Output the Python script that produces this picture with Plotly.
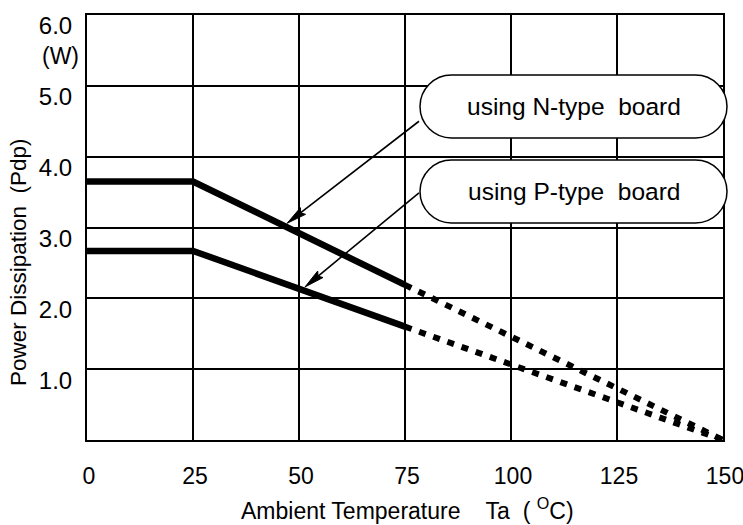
import math
import plotly.graph_objects as go

# ---- data ----
temp_solid = [0, 25, 75]
n_type_solid = [3.65, 3.65, 2.19]
p_type_solid = [2.67, 2.67, 1.60]
temp_dotted = [75, 150]
n_type_dotted = [2.19, 0.0]
p_type_dotted = [1.60, 0.0]

x_ticks = [0, 25, 50, 75, 100, 125, 150]
x_tick_labels = ["0", "25", "50", "75", "100", "125", "150"]
y_ticks = [1, 2, 3, 4, 5, 6]
y_tick_labels = ["1.0", "2.0", "3.0", "4.0", "5.0", "6.0"]

labels = ["using N-type  board", "using P-type  board"]
arrow_tips = [(47.2, 3.06), (51.4, 2.16)]
arrow_tails = [(78.3, 4.50), (78.3, 3.49)]

X_RANGE = [0, 150]
Y_RANGE = [0, 6]

# ---- layout geometry (pixels) ----
W, H = 743, 525
ML, MR, MT, MB = 87, 20, 15, 85
PW, PH = W - ML - MR, H - MT - MB
FONT = "Liberation Sans, Arial, sans-serif"


def px2paper(px, py):
    return (px - ML) / PW, (H - MB - py) / PH


def stadium(L, T, R, B):
    r = (B - T) / 2.0
    k = 0.5523 * r
    cy = (T + B) / 2.0

    def P(x, y):
        xp, yp = px2paper(x, y)
        return f"{xp:.5f},{yp:.5f}"

    d = f"M{P(L + r, T)} L{P(R - r, T)} "
    d += f"C{P(R - r + k, T)} {P(R, cy - k)} {P(R, cy)} "
    d += f"C{P(R, cy + k)} {P(R - r + k, B)} {P(R - r, B)} "
    d += f"L{P(L + r, B)} "
    d += f"C{P(L + r - k, B)} {P(L, cy + k)} {P(L, cy)} "
    d += f"C{P(L, cy - k)} {P(L + r - k, T)} {P(L + r, T)} Z"
    return d


fig = go.Figure()
for xs, ys in [(temp_solid, n_type_solid), (temp_solid, p_type_solid)]:
    fig.add_trace(go.Scatter(x=xs, y=ys, mode="lines",
                             line=dict(color="black", width=6.5),
                             showlegend=False, hoverinfo="skip"))
for xs, ys in [(temp_dotted, n_type_dotted), (temp_dotted, p_type_dotted)]:
    fig.add_trace(go.Scatter(x=xs, y=ys, mode="lines",
                             line=dict(color="black", width=6, dash="7px,8px"),
                             showlegend=False, hoverinfo="skip"))

boxes = [(420, 75, 727, 138), (420, 160, 727, 223)]
shapes = []
annotations = []
for (L, T, R, B), lab in zip(boxes, labels):
    shapes.append(dict(type="path", xref="paper", yref="paper",
                       path=stadium(L, T, R, B), fillcolor="white",
                       line=dict(color="black", width=1.5), layer="above"))
    cx, cy = px2paper((L + R) / 2, (T + B) / 2)
    annotations.append(dict(x=cx, y=cy, xref="paper", yref="paper",
                            xanchor="center", yanchor="middle",
                            text=lab, showarrow=False,
                            font=dict(family=FONT, size=24.5, color="black")))

# arrows: shaft + elongated head
sx = PW / (X_RANGE[1] - X_RANGE[0])
sy = PH / (Y_RANGE[1] - Y_RANGE[0])
HEAD_LEN, HEAD_HW = 20, 4.2
for (tx, ty), (ax, ay) in zip(arrow_tips, arrow_tails):
    dx, dy = (ax - tx) * sx, (ay - ty) * sy
    n = math.hypot(dx, dy)
    ux, uy = dx / n, dy / n
    px_, py_ = -uy, ux
    bx, by = ux * HEAD_LEN, uy * HEAD_LEN
    shapes.append(dict(type="line", xref="x", yref="y",
                       x0=ax, y0=ay, x1=tx + bx * 0.7 / sx, y1=ty + by * 0.7 / sy,
                       line=dict(color="black", width=1.6), layer="above"))
    head = (f"M0,0 L{bx + px_ * HEAD_HW:.2f},{by + py_ * HEAD_HW:.2f} "
            f"L{bx * 0.85:.2f},{by * 0.85:.2f} "
            f"L{bx - px_ * HEAD_HW:.2f},{by - py_ * HEAD_HW:.2f} Z")
    shapes.append(dict(type="path", xref="x", yref="y",
                       xsizemode="pixel", ysizemode="pixel",
                       xanchor=tx, yanchor=ty, path=head,
                       fillcolor="black", line=dict(color="black", width=1),
                       layer="above"))

# (W) unit label
ux_, uy_ = px2paper(60, 56)
annotations.append(dict(x=ux_, y=uy_, xref="paper", yref="paper", text="(W)",
                        showarrow=False, xanchor="center", yanchor="middle",
                        font=dict(family=FONT, size=23, color="black")))
# axis titles
tx_, ty_ = px2paper(407, 509)
annotations.append(dict(x=tx_, y=ty_, xref="paper", yref="paper",
                        text="Ambient Temperature    Ta  ( <sup>O</sup>C)",
                        showarrow=False, xanchor="center", yanchor="middle",
                        font=dict(family=FONT, size=23, color="black")))
tx_, ty_ = px2paper(18, 262)
annotations.append(dict(x=tx_, y=ty_, xref="paper", yref="paper",
                        text="Power Dissipation  (Pdp)", textangle=-90,
                        showarrow=False, xanchor="center", yanchor="middle",
                        font=dict(family=FONT, size=22.5, color="black")))

fig.update_layout(
    width=W, height=H, autosize=False,
    margin=dict(l=ML, r=MR, t=MT, b=MB, pad=0),
    paper_bgcolor="white", plot_bgcolor="white",
    shapes=shapes, annotations=annotations,
    xaxis=dict(range=X_RANGE, tickvals=x_ticks, ticktext=x_tick_labels,
               showgrid=True, gridcolor="black", gridwidth=2,
               showline=True, linecolor="black", linewidth=2, mirror=True,
               zeroline=False, ticks="", ticklabelstandoff=14,
               ticklabelshift=2,
               automargin=False, ticklabeloverflow="allow",
               tickfont=dict(family=FONT, size=23, color="black")),
    yaxis=dict(range=Y_RANGE, tickvals=y_ticks, ticktext=y_tick_labels,
               showgrid=True, gridcolor="black", gridwidth=2,
               showline=True, linecolor="black", linewidth=2, mirror=True,
               zeroline=False, ticks="", ticklabelstandoff=8,
               ticklabelshift=11, automargin=False,
               ticklabeloverflow="allow",
               tickfont=dict(family=FONT, size=24, color="black")),
)

fig.write_html("out.html", config={"responsive": False, "displayModeBar": False},
               post_script="document.body.style.margin='0';"
                           "document.body.style.overflow='hidden';")
